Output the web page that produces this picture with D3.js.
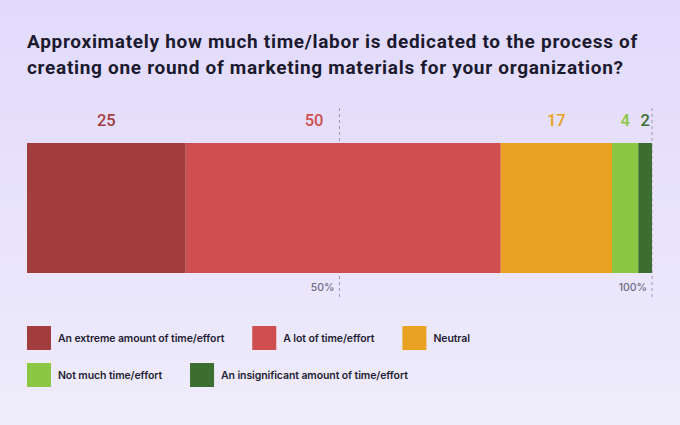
<!DOCTYPE html>
<html><head><meta charset="utf-8">
<script src="https://cdn.jsdelivr.net/npm/d3@7"></script>
<style>
html,body{margin:0;padding:0;}
body{width:680px;height:425px;overflow:hidden;}
</style></head>
<body><div id="chart"></div>
<script>
const titleLines = ["Approximately how much time/labor is dedicated to the process of",
  "creating one round of marketing materials for your organization?"];
const categories = ["An extreme amount of time/effort","A lot of time/effort","Neutral","Not much time/effort","An insignificant amount of time/effort"];
// shares (%); labels show the whole-number part
const values = [25.4, 50.4, 17.8, 4.2, 2.2];
const colors = ["#a23d3d","#cf4e4f","#e9a121","#8cc743","#3c6e31"];
const tickValues = [50, 100];
const tickLabels = ["50%", "100%"];

const W = 680, H = 425;
const svg = d3.select("#chart").append("svg").attr("width", W).attr("height", H);
const defs = svg.append("defs");
const grad = defs.append("linearGradient").attr("id","bg").attr("x1",0).attr("y1",0).attr("x2",0).attr("y2",1);
grad.append("stop").attr("offset","0%").attr("stop-color","#e2dafc");
grad.append("stop").attr("offset","100%").attr("stop-color","#efecfb");
svg.append("rect").attr("width",W).attr("height",H).attr("fill","url(#bg)");

// title
const tt = svg.append("g").selectAll("text").data(titleLines).join("text")
  .attr("x", 27).attr("y", (d,i)=>48 + i*26)
  .attr("font-family","Roboto, sans-serif").attr("font-weight",700)
  .attr("font-size",19).attr("fill","#1b1a2e")
  .text(d=>d);
// fit first line to the reference width
const w0 = tt.nodes()[0].getComputedTextLength();
const ls = (611 - w0) / titleLines[0].length;
tt.attr("letter-spacing", ls);

const total = d3.sum(values);
const x = d3.scaleLinear().domain([0,100]).range([27,652]);
const barTop = 143, barH = 130;
let cum = 0;
const segs = values.map((v,i)=>{const s={v, i, start:cum/total*100, end:(cum+v)/total*100}; cum+=v; return s;});

// gridlines
svg.append("g").selectAll("line").data(tickValues).join("line")
  .attr("x1",d=>x(d)).attr("x2",d=>x(d)).attr("y1",108).attr("y2",297)
  .attr("stroke","#9d98b2").attr("stroke-width",1).attr("stroke-dasharray","3,3");

// bars
svg.append("g").selectAll("rect").data(segs).join("rect")
  .attr("x",d=>x(d.start)).attr("width",d=>x(d.end)-x(d.start))
  .attr("y",barTop).attr("height",barH).attr("fill",d=>colors[d.i]);

// tick labels
svg.append("g").selectAll("text").data(tickValues).join("text")
  .attr("x",d=>x(d)-5).attr("y",291).attr("text-anchor","end")
  .attr("font-family","Inter, sans-serif").attr("font-size",10.5).attr("font-weight",500)
  .attr("fill","#6f6b82").text((d,i)=>tickLabels[i]);

// value labels
const vl = svg.append("g").selectAll("text").data(segs).join("text")
  .attr("x",d=>(x(d.start)+x(d.end))/2).attr("y",126).attr("text-anchor","middle")
  .attr("font-family","Roboto, sans-serif").attr("font-size",16.5).attr("font-weight",500)
  .attr("fill",d=>colors[d.i]).text(d=>Math.floor(d.v));
vl.each(function(d){
  const w = this.getComputedTextLength();
  const cx = (x(d.start)+x(d.end))/2;
  tickValues.forEach(t=>{
    const gx = x(t);
    if (cx - w/2 < gx && cx + w/2 > gx) {
      d3.select(this).attr("x", gx - 16 - w/2);
    }
  });
});

// legend (flow layout)
const leg = svg.append("g");
let lx = 27, ly = 326;
const sq = 24, gap = 28, maxX = 600;
categories.forEach((c,i)=>{
  const g = leg.append("g");
  const t = g.append("text").attr("font-family","Inter, sans-serif").attr("font-size",10.5)
    .attr("font-weight",600).attr("fill","#1f1d33").attr("letter-spacing",-0.1).text(c);
  const tw = t.node().getComputedTextLength();
  const itemW = sq + 7 + tw;
  if (lx + itemW > maxX) { lx = 27; ly += 37; }
  g.append("rect").attr("x",lx).attr("y",ly).attr("width",sq).attr("height",sq).attr("fill",colors[i]);
  t.attr("x", lx + sq + 7).attr("y", ly + sq/2).attr("dy","0.35em");
  lx += itemW + gap;
});
</script></body></html>
